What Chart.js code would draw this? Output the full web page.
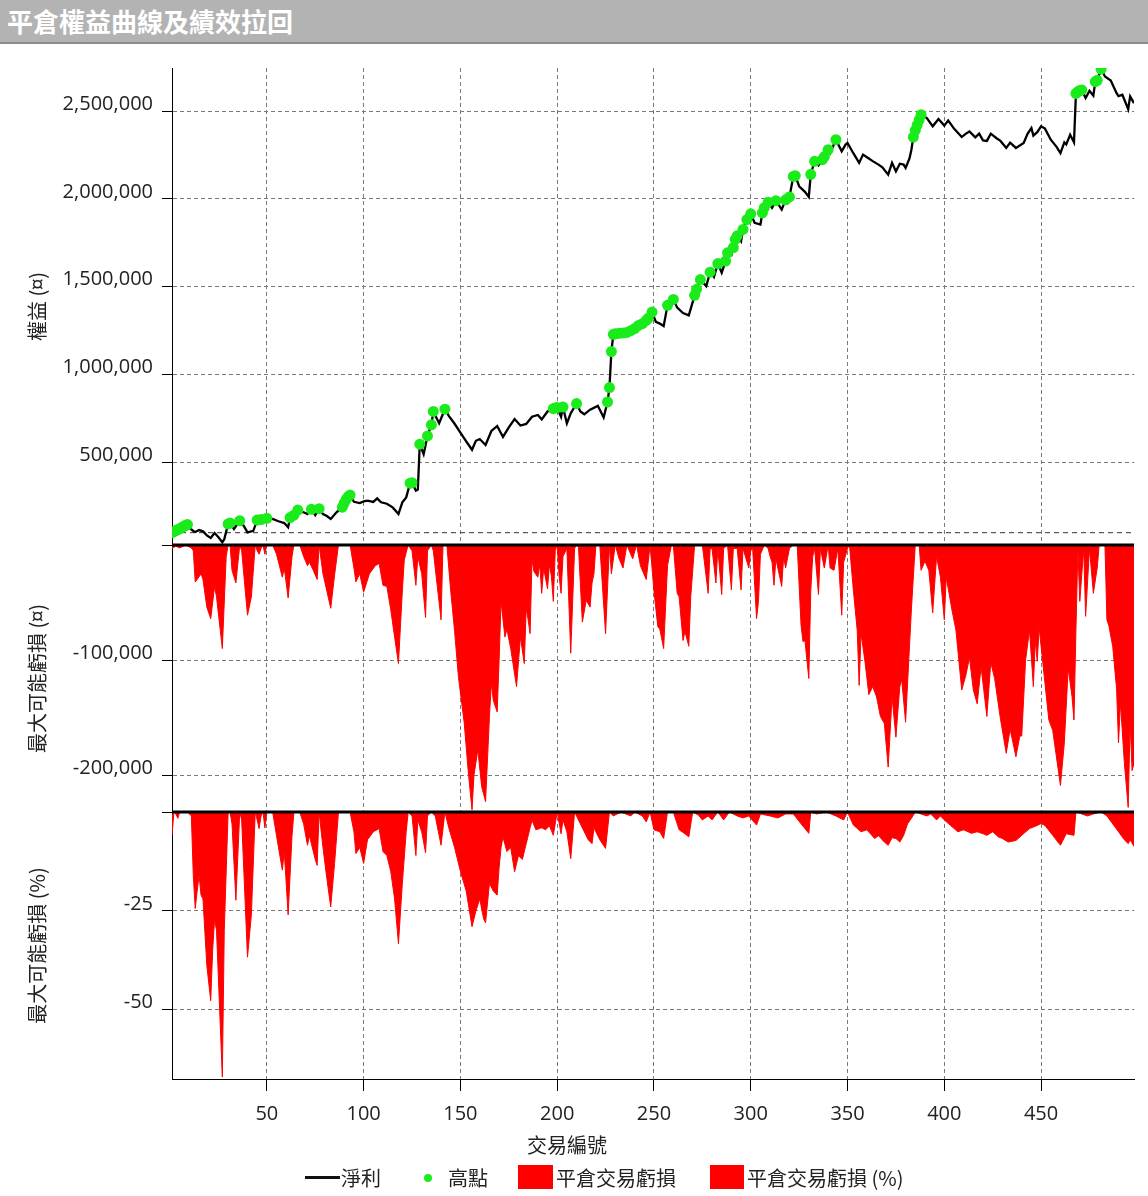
<!DOCTYPE html>
<html>
<head>
<meta charset="utf-8">
<script src="https://cdn.jsdelivr.net/npm/chart.js@4"></script>
<style>
    body { margin: 0; background: #fff; width: 1148px; height: 1196px; overflow: hidden; position: relative; font-family: "Noto Sans CJK TC", "Open Sans", sans-serif; color: #222; }
    #titleBar { position: absolute; left: 0; top: 0; width: 1148px; height: 44px; box-sizing: border-box; background: #b3b3b3; border-bottom: 2px solid #8c8c8c; color: #fff; font-size: 26px; font-weight: bold; line-height: 42px; padding-left: 7px; }
    #chartBox { position: absolute; left: 0; top: 44px; width: 1148px; height: 1152px; }
    #xTitle { position: absolute; left: 467px; width: 200px; top: 1133px; text-align: center; font-size: 20px; line-height: 24px; }
    .lg { position: absolute; top: 1166px; font-size: 20px; line-height: 24px; white-space: nowrap; }
    .sw { position: absolute; }
</style>
</head>
<body>
<div id="titleBar">平倉權益曲線及績效拉回</div>
<div id="chartBox"><canvas id="equityChart"></canvas></div>
<div id="xTitle">交易編號</div>
<div class="sw" style="left:305px; top:1176px; width:35px; height:2.5px; background:#111;"></div>
<div class="lg" style="left:341px;">淨利</div>
<div class="sw" style="left:424px; top:1174px; width:8px; height:8px; border-radius:50%; background:#1aeb1a;"></div>
<div class="lg" style="left:448px;">高點</div>
<div class="sw" style="left:518px; top:1165px; width:35px; height:24px; background:#ff0000;"></div>
<div class="lg" style="left:556px;">平倉交易虧損</div>
<div class="sw" style="left:710px; top:1165px; width:34px; height:24px; background:#ff0000;"></div>
<div class="lg" style="left:747px;">平倉交易虧損 (%)</div>
<script>
// Data: [trade number, value]
const tradeRange = [1, 498];
const initialCapital = 100000;

const equity = [
    [1, 100000], [2, 106000], [3, 112000], [4, 117000], [5, 123000], [6, 129000], [7, 136000], [8, 142000], [9, 146000],
    [10, 127000], [12, 110000], [13, 104000], [15, 115000], [17, 108000], [19, 85000], [21, 70000], [23, 98000], [25, 74000], [27, 45000],
    [28, 62000], [30, 150000], [31, 155000], [33, 121000], [36, 168000], [38, 140000], [40, 102000], [43, 111000], [45, 172000], [46, 160000],
    [47, 175000], [50, 182000], [53, 178000], [56, 165000], [59, 155000], [61, 131000], [62, 186000], [64, 200000], [66, 229000], [69, 216000],
    [71, 206000], [73, 233000], [75, 200000], [77, 237000], [79, 206000], [81, 195000], [83, 178000], [86, 216000], [89, 245000], [90, 270000],
    [91, 290000], [92, 305000], [93, 314000], [95, 276000], [98, 269000], [100, 278000], [102, 282000], [105, 275000], [107, 295000], [109, 273000],
    [112, 265000], [115, 244000], [118, 206000], [120, 273000], [122, 301000], [124, 382000], [125, 385000], [127, 339000], [128, 345000], [129, 604000],
    [131, 547000], [133, 651000], [135, 714000], [136, 790000], [139, 723000], [142, 803000], [144, 765000], [147, 720000], [150, 670000], [153, 620000],
    [156, 572000], [158, 623000], [160, 633000], [163, 599000], [166, 679000], [169, 707000], [172, 645000], [175, 700000], [178, 747000], [181, 710000],
    [184, 719000], [187, 760000], [190, 770000], [192, 745000], [195, 790000], [198, 806000], [199, 810000], [200, 812000], [202, 760000], [203, 815000],
    [205, 722000], [207, 780000], [210, 835000], [212, 790000], [214, 774000], [217, 800000], [221, 822000], [224, 756000], [226, 844000], [227, 926000],
    [228, 1131000], [229, 1229000], [230, 1232000], [232, 1235000], [234, 1237000], [236, 1240000], [238, 1250000], [240, 1262000], [242, 1280000], [244, 1290000],
    [246, 1308000], [247, 1320000], [249, 1356000], [251, 1300000], [253, 1290000], [255, 1276000], [257, 1394000], [260, 1428000], [262, 1381000], [265, 1350000],
    [268, 1337000], [271, 1451000], [272, 1485000], [274, 1541000], [277, 1503000], [279, 1583000], [281, 1555000], [283, 1632000], [285, 1580000], [287, 1646000],
    [288, 1693000], [290, 1680000], [291, 1722000], [292, 1769000], [293, 1790000], [295, 1759000], [296, 1826000], [298, 1882000], [300, 1915000], [302, 1864000],
    [305, 1854000], [306, 1920000], [307, 1950000], [309, 1981000], [311, 1949000], [313, 1990000], [316, 1939000], [318, 1995000], [320, 2011000], [322, 2128000],
    [323, 2132000], [325, 2072000], [328, 2040000], [330, 2011000], [331, 2140000], [333, 2214000], [335, 2190000], [337, 2223000], [338, 2240000], [340, 2280000],
    [341, 2260000], [344, 2337000], [347, 2271000], [349, 2309000], [350, 2318000], [353, 2260000], [356, 2205000], [358, 2252000], [361, 2230000], [363, 2215000],
    [366, 2195000], [368, 2180000], [371, 2138000], [373, 2205000], [375, 2157000], [377, 2200000], [379, 2195000], [380, 2176000], [382, 2230000], [383, 2280000],
    [384, 2352000], [385, 2390000], [386, 2420000], [387, 2450000], [388, 2479000], [391, 2460000], [394, 2413000], [397, 2455000], [400, 2417000], [402, 2447000],
    [405, 2400000], [409, 2352000], [411, 2370000], [413, 2384000], [416, 2350000], [418, 2371000], [420, 2333000], [422, 2330000], [424, 2371000], [427, 2345000],
    [429, 2330000], [432, 2290000], [434, 2320000], [437, 2290000], [441, 2318000], [443, 2370000], [445, 2403000], [446, 2360000], [448, 2380000], [450, 2413000],
    [452, 2400000], [455, 2337000], [458, 2296000], [460, 2261000], [462, 2322000], [463, 2310000], [465, 2365000], [467, 2322000], [468, 2600000], [469, 2610000],
    [470, 2617000], [471, 2620000], [473, 2574000], [475, 2615000], [477, 2587000], [478, 2668000], [479, 2675000], [481, 2739000], [483, 2697000], [486, 2674000],
    [489, 2602000], [490, 2585000], [492, 2593000], [495, 2511000], [496, 2583000], [498, 2545000]
];

const highPoints = [
    [1, 100000], [2, 106000], [3, 112000], [4, 117000], [5, 123000], [6, 129000], [7, 136000], [8, 142000], [9, 146000],
    [30, 150000], [31, 155000], [36, 168000], [45, 172000], [47, 175000], [50, 182000], [62, 186000], [64, 200000], [66, 229000],
    [73, 233000], [77, 237000], [89, 245000], [90, 270000], [91, 290000], [92, 305000], [93, 314000], [124, 382000], [125, 385000],
    [129, 604000], [133, 651000], [135, 714000], [136, 790000], [142, 803000], [198, 806000], [199, 810000], [200, 812000], [203, 815000],
    [210, 835000], [226, 844000], [227, 926000], [228, 1131000], [229, 1229000], [230, 1232000], [232, 1235000], [234, 1237000], [236, 1240000],
    [238, 1250000], [240, 1262000], [242, 1280000], [244, 1290000], [246, 1308000], [247, 1320000], [249, 1356000], [257, 1394000], [260, 1428000],
    [271, 1451000], [272, 1485000], [274, 1541000], [279, 1583000], [283, 1632000], [287, 1646000], [288, 1693000], [291, 1722000], [292, 1769000],
    [293, 1790000], [296, 1826000], [298, 1882000], [300, 1915000], [306, 1920000], [307, 1950000], [309, 1981000], [313, 1990000], [318, 1995000],
    [320, 2011000], [322, 2128000], [323, 2132000], [331, 2140000], [333, 2214000], [337, 2223000], [338, 2240000], [340, 2280000], [344, 2337000],
    [384, 2352000], [385, 2390000], [386, 2420000], [387, 2450000], [388, 2479000], [468, 2600000], [469, 2610000], [470, 2617000], [471, 2620000],
    [478, 2668000], [479, 2675000], [481, 2739000]
];

const drawdown = [
    [1, -3000], [3, -1000], [5, -2500], [8, 0], [11, -2500], [12, -5000], [13, -32000], [14, -30000], [16, -25000], [17, -30000],
    [19, -54000], [21, -64000], [23, -36000], [24, -45000], [27, -90000], [29, -10000], [30, 0], [31, 0], [32, -22000], [34, -33000],
    [36, 0], [37, -5000], [40, -61000], [42, -45000], [44, 0], [45, -5000], [46, -8000], [47, -3000], [48, 0], [49, -8000],
    [50, 0], [53, 0], [55, -8000], [58, -28000], [59, -20000], [61, -46000], [63, -10000], [64, 0], [67, 0], [69, -10000],
    [71, -18000], [72, -15000], [74, -22000], [76, -30000], [77, 0], [79, -25000], [81, -40000], [83, -55000], [85, -26000], [87, 0],
    [93, 0], [95, -20000], [96, -32000], [98, -25000], [100, -41000], [103, -25000], [106, -18000], [108, -16000], [110, -35000], [112, -36000],
    [114, -56000], [116, -80000], [118, -103000], [120, -40000], [121, -13000], [123, 0], [125, -5000], [127, -35000], [128, -10000], [130, -25000],
    [132, -63000], [133, -5000], [135, 0], [136, -5000], [138, -35000], [140, -65000], [141, 0], [143, 0], [145, -40000], [147, -75000],
    [149, -115000], [152, -155000], [154, -196000], [156, -230000], [157, -200000], [159, -178000], [161, -210000], [163, -223000], [165, -149000], [166, -120000],
    [167, -135000], [169, -145000], [170, -100000], [171, -49000], [173, -80000], [174, -73000], [176, -90000], [179, -123000], [181, -80000], [183, -103000],
    [184, -55000], [185, -65000], [186, -77000], [187, -13000], [188, -23000], [190, -28000], [191, -17000], [192, -42000], [193, -20000], [195, -38000],
    [196, -17000], [197, -27000], [198, -49000], [199, -5000], [200, 0], [201, -27000], [202, -42000], [203, -10000], [205, -3000], [207, -94000],
    [209, -3000], [210, 0], [211, -2000], [213, -67000], [215, -48000], [217, -54000], [218, -33000], [219, -25000], [220, 0], [222, 0],
    [225, -77000], [227, 0], [228, -25000], [230, 0], [232, -12000], [234, -20000], [236, 0], [239, -12000], [241, 0], [243, -18000],
    [246, -30000], [248, 0], [250, -40000], [252, -71000], [253, -73000], [255, -90000], [257, -18000], [259, 0], [260, 0], [262, -42000],
    [263, -45000], [265, -83000], [266, -75000], [268, -88000], [269, -45000], [271, 0], [275, 0], [278, -42000], [279, -3000], [280, -3000],
    [282, -33000], [283, -3000], [285, -43000], [286, -3000], [288, 0], [290, -39000], [291, -3000], [293, -3000], [295, -39000], [296, -3000],
    [299, -20000], [300, -5000], [301, -3000], [303, -64000], [304, -49000], [305, -8000], [307, 0], [309, -3000], [310, -10000], [311, -15000],
    [312, -35000], [313, -12000], [316, -36000], [317, -10000], [318, -20000], [320, -3000], [322, 0], [324, 0], [326, -70000], [327, -84000],
    [328, -83000], [330, -116000], [331, -40000], [332, -10000], [333, -3000], [335, -43000], [336, -3000], [338, -20000], [340, 0], [341, -20000],
    [343, -22000], [345, -3000], [347, -61000], [348, -15000], [350, -3000], [351, 0], [353, -39000], [355, -74000], [356, -122000], [357, -77000],
    [359, -101000], [361, -130000], [363, -123000], [365, -132000], [367, -149000], [369, -155000], [371, -193000], [373, -132000], [375, -167000], [377, -123000],
    [378, -117000], [380, -154000], [382, -88000], [383, -56000], [385, 0], [387, 0], [388, -22000], [390, -14000], [392, -22000], [394, -59000],
    [396, -10000], [397, -19000], [398, -28000], [400, -65000], [401, -28000], [404, -57000], [406, -74000], [409, -126000], [411, -114000], [413, -98000],
    [415, -126000], [417, -138000], [419, -106000], [422, -149000], [424, -102000], [426, -116000], [429, -151000], [432, -181000], [434, -160000], [437, -184000],
    [439, -166000], [440, -166000], [442, -100000], [444, -74000], [446, -123000], [447, -83000], [448, -101000], [449, -72000], [451, -104000], [454, -152000],
    [456, -161000], [460, -209000], [462, -172000], [464, -107000], [466, -132000], [467, -152000], [468, -74000], [469, -4000], [470, -49000], [472, -3000],
    [473, -62000], [475, -3000], [477, -42000], [479, -20000], [480, 0], [483, 0], [484, -65000], [485, -70000], [487, -88000], [489, -125000],
    [490, -172000], [491, -137000], [493, -189000], [495, -228000], [496, -154000], [497, -196000], [498, -190000]
];

const drawdownPct = [
    [1, -5.9], [2, 0], [3, -0.5], [4, -1.6], [5, 0], [9, 0], [10, -0.5], [11, -1], [12, -16], [13, -24.4],
    [14, -20], [15, -16], [16, -21], [17, -22], [19, -38.8], [21, -47.7], [22, -35], [23, -27], [24, -30], [27, -67],
    [28, -30], [30, 0], [31, 0], [32, -3], [34, -22.3], [36, 0], [37, -2], [40, -36.7], [42, -26], [44, 0],
    [45, -2], [46, -4.2], [47, -1], [48, 0], [49, -4], [50, 0], [53, 0], [55, -6], [58, -14.7], [59, -10],
    [61, -26], [63, -6], [64, 0], [67, 0], [69, -3], [71, -8.4], [72, -6], [74, -10], [75, -12], [76, -13.5],
    [77, 0], [79, -9], [81, -16.8], [83, -24], [85, -13], [87, 0], [93, 0], [95, -5], [96, -10.5], [98, -9],
    [100, -13], [102, -7], [105, -5], [108, -4.2], [110, -10], [112, -11], [114, -15], [116, -22], [118, -33.3], [120, -18],
    [122, -5], [123, 0], [125, -1], [127, -11], [128, -2], [130, -5], [132, -10.3], [133, -1], [135, 0], [137, -1],
    [140, -8.4], [142, 0], [144, -4], [147, -9], [150, -15], [153, -20], [156, -29], [158, -25], [160, -22], [162, -27],
    [163, -28], [165, -18], [167, -20], [169, -21], [170, -14], [171, -9], [172, -6.3], [174, -10], [176, -9], [178, -15.1],
    [180, -11], [182, -12], [184, -8], [186, -4], [187, -2.1], [189, -4.5], [192, -4], [194, -4.5], [196, -3.5], [198, -5.9],
    [200, 0], [202, -5.5], [203, -2], [205, -5], [207, -11.8], [209, 0], [211, -2], [216, -7], [218, -8], [219, -4],
    [222, -7], [225, -9.2], [227, 0], [229, -1], [233, 0], [238, -1], [240, 0], [244, -1], [246, -2.5], [248, 0],
    [250, -4.5], [253, -5], [255, -6.7], [257, 0], [260, 0], [263, -4.5], [266, -5.5], [268, -6.3], [270, 0], [273, -0.8],
    [275, -2], [278, -1], [280, -2], [283, 0], [286, -2], [289, 0], [293, -1], [296, -1.5], [299, -1], [303, -3.3],
    [305, -0.5], [310, -1], [314, -1.5], [318, -0.5], [322, -0.5], [326, -3], [330, -5.4], [331, 0], [334, -0.5], [339, 0],
    [344, -1], [348, -2], [350, 0], [353, -3.3], [357, -5], [360, -4.5], [364, -6.7], [366, -6], [369, -7.6], [371, -8.4],
    [373, -6.5], [375, -6.7], [377, -7.6], [379, -5.9], [381, -3], [383, -1.6], [385, 0], [388, -0.5], [391, -1], [393, -0.5],
    [396, -2], [398, -1], [400, -2], [403, -3.3], [407, -5], [410, -4.5], [414, -5.4], [417, -5], [420, -5.5], [422, -5.9],
    [425, -5], [428, -6.3], [430, -6.7], [433, -7.6], [437, -7.2], [440, -5.9], [444, -4.2], [448, -3.4], [450, -2.9], [452, -3.4],
    [456, -5.9], [460, -8.4], [463, -5.5], [467, -5.9], [468, 0], [471, -0.5], [474, -1], [477, -0.5], [481, 0], [484, -1],
    [487, -3], [490, -5], [493, -7], [495, -8], [496, -7], [498, -8.7]
];

// Axis ranges and tick labels
const equityRange = [30000, 2745000];
const drawdownRange = [-232000, 0];
const pctRange = [-67.5, 0];
const tradeTicks = [50, 100, 150, 200, 250, 300, 350, 400, 450];
const equityTicks = [500000, 1000000, 1500000, 2000000, 2500000];
const drawdownTicks = [0, -100000, -200000];
const pctTicks = [0, -25, -50];

const tickFont = { family: '"Open Sans", "Noto Sans CJK TC", sans-serif', size: 20 };
const titleFont = { family: '"Noto Sans CJK TC", "Open Sans", sans-serif', size: 20 };
const gridColor = "#7a7a7a";

function toPoints(pairs) {
    return pairs.map(p => ({ x: p[0], y: p[1] }));
}

// One stacked panel axis on the left
function panelAxis(title, weight, range, tickValues) {
    return {
        type: "linear",
        position: "left",
        stack: "panels",
        stackWeight: weight,
        min: range[0],
        max: range[1],
        afterBuildTicks: scale => { scale.ticks = tickValues.map(v => ({ value: v })); },
        afterFit: scale => { scale.width = 159; },
        border: { color: "#000", width: 1, dash: [4, 3] },
        grid: {
            color: c => (c.tick && c.tick.value === 0 ? "rgba(0,0,0,0)" : gridColor),
            lineWidth: 1,
            tickColor: "#000",
            tickLength: 10,
            tickBorderDash: [],
        },
        ticks: {
            font: tickFont,
            color: "#222",
            padding: 9,
            labelOffset: -7,
            callback: v => (v === 0 ? "" : v.toLocaleString("en-US")),
        },
        title: { display: true, text: title, font: titleFont, color: "#222", padding: { top: 12, bottom: 0 } },
    };
}

// Thick black zero line on top of the red drawdown areas
const zeroLines = {
    id: "zeroLines",
    afterDatasetsDraw(chart) {
        const { ctx, chartArea } = chart;
        ["yDd", "yPct"].forEach(id => {
            const y = chart.scales[id].getPixelForValue(0);
            ctx.save();
            ctx.strokeStyle = "#000";
            ctx.lineWidth = 3;
            ctx.beginPath();
            ctx.moveTo(chartArea.left, y);
            ctx.lineTo(chartArea.right, y);
            ctx.stroke();
            ctx.restore();
        });
    },
};

document.addEventListener("DOMContentLoaded", () => {
    const ctx = document.getElementById("equityChart").getContext("2d");
    new Chart(ctx, {
        type: "line",
        data: {
            datasets: [
                {
                    label: "高點",
                    data: toPoints(highPoints),
                    yAxisID: "yEq",
                    showLine: false,
                    pointRadius: 5.5,
                    pointBackgroundColor: "#1aeb1a",
                    pointBorderWidth: 0,
                    order: 0,
                },
                {
                    label: "淨利",
                    data: toPoints(equity),
                    yAxisID: "yEq",
                    borderColor: "#000",
                    borderWidth: 2.3,
                    pointRadius: 0,
                    fill: false,
                    order: 1,
                },
                {
                    label: "初始資金",
                    data: [{ x: tradeRange[0], y: initialCapital }, { x: tradeRange[1], y: initialCapital }],
                    yAxisID: "yEq",
                    borderColor: "#333",
                    borderWidth: 1,
                    borderDash: [5, 4],
                    pointRadius: 0,
                    order: 2,
                },
                {
                    label: "平倉交易虧損",
                    data: toPoints(drawdown),
                    yAxisID: "yDd",
                    borderColor: "#ff0000",
                    backgroundColor: "#ff0000",
                    borderWidth: 1,
                    pointRadius: 0,
                    fill: "origin",
                    order: 3,
                },
                {
                    label: "平倉交易虧損 (%)",
                    data: toPoints(drawdownPct),
                    yAxisID: "yPct",
                    borderColor: "#ff0000",
                    backgroundColor: "#ff0000",
                    borderWidth: 1,
                    pointRadius: 0,
                    fill: "origin",
                    order: 3,
                },
            ],
        },
        options: {
            responsive: true,
            maintainAspectRatio: false,
            animation: false,
            events: [],
            layout: { padding: { left: 13, right: 14, top: 24, bottom: 67 } },
            elements: { line: { tension: 0 } },
            plugins: {
                legend: { display: false },
                tooltip: { enabled: false },
            },
            scales: {
                x: {
                    type: "linear",
                    position: "bottom",
                    min: tradeRange[0],
                    max: tradeRange[1],
                    afterBuildTicks: scale => { scale.ticks = tradeTicks.map(v => ({ value: v })); },
                    afterFit: scale => { scale.height = 50; },
                    border: { color: "#000", width: 1, dash: [4, 3] },
                    grid: { color: gridColor, lineWidth: 1, tickColor: "#000", tickLength: 12, tickBorderDash: [] },
                    ticks: { font: tickFont, color: "#222", padding: 11, maxRotation: 0 },
                },
                // order matters: the last stacked axis is drawn at the top
                yPct: panelAxis("最大可能虧損 (%)", 267, pctRange, pctTicks),
                yDd: panelAxis("最大可能虧損 (¤)", 267, drawdownRange, drawdownTicks),
                yEq: panelAxis("權益 (¤)", 477, equityRange, equityTicks),
            },
        },
        plugins: [zeroLines],
    });
});
</script>
</body>
</html>
